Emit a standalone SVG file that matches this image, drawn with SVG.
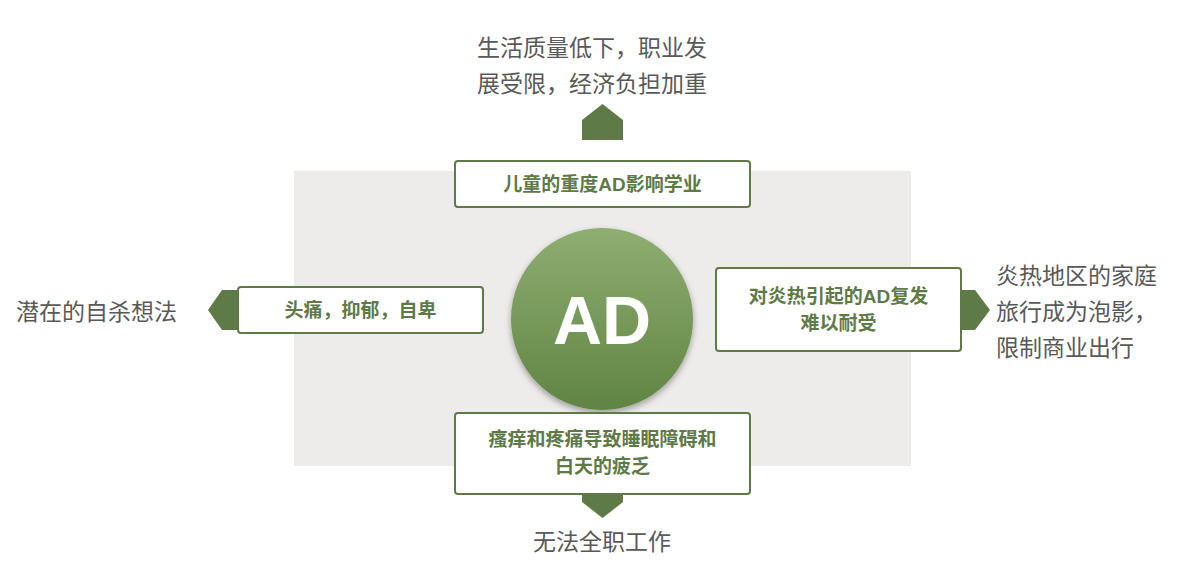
<svg xmlns="http://www.w3.org/2000/svg" width="1193" height="573" viewBox="0 0 1193 573">
<style>
.box{fill:#fff;stroke:#5e7a47;stroke-width:2}
.arr{fill:#5e7a47}
.bt{font-family:"Liberation Sans","Noto Sans CJK SC",sans-serif;font-weight:bold;font-size:19px;fill:#5e7a47;text-anchor:middle}
.ot{font-family:"Liberation Sans","Noto Sans CJK SC",sans-serif;font-size:23px;fill:#595959}
</style>
<defs>
<linearGradient id="g" x1="0" y1="0" x2="0" y2="1">
<stop offset="0" stop-color="#8fae72"/><stop offset="1" stop-color="#5f8443"/>
</linearGradient>
<filter id="s" x="-20%" y="-20%" width="140%" height="140%"><feDropShadow dx="0" dy="3" stdDeviation="3" flood-opacity="0.35"/></filter>
</defs>
<rect x="294" y="171" width="617" height="295" fill="#edeceb"/>
<g id="connectors">
<polygon class="arr" points="582,140 582,120 602.5,104 623,120 623,140"/>
<polygon class="arr" points="240,290 222,290 208,310 222,330 240,330"/>
<polygon class="arr" points="960,290 975,290 990,310 975,330 960,330"/>
<polygon class="arr" points="582,492 582,502 602.5,518 623,502 623,492"/>
</g>
<g id="center"><circle cx="602" cy="319" r="91" fill="url(#g)" filter="url(#s)"/>
<text x="602" y="344" font-family="Liberation Sans,sans-serif" font-weight="bold" font-size="68" fill="#fff" text-anchor="middle">AD</text></g>
<g id="top"><rect class="box" x="455" y="161" width="295" height="46" rx="3"/><text class="bt" x="602.5" y="191">儿童的重度AD影响学业</text></g>
<g id="left"><rect class="box" x="238" y="287" width="245" height="46" rx="3"/><text class="bt" x="360.5" y="317">头痛，抑郁，自卑</text></g>
<g id="right"><rect class="box" x="716" y="268" width="245" height="83" rx="3"/><text class="bt" x="838.5" y="303">对炎热引起的AD复发</text><text class="bt" x="838.5" y="330">难以耐受</text></g>
<g id="bottom"><rect class="box" x="455" y="413" width="295" height="81" rx="3"/><text class="bt" x="602.5" y="446">瘙痒和疼痛导致睡眠障碍和</text><text class="bt" x="602.5" y="473">白天的疲乏</text></g>
<g id="out-top"><text class="ot" x="592" y="56" text-anchor="middle">生活质量低下，职业发</text><text class="ot" x="592" y="92" text-anchor="middle">展受限，经济负担加重</text></g>
<g id="out-left"><text class="ot" x="16" y="320">潜在的自杀想法</text></g>
<g id="out-right"><text class="ot" x="996" y="284">炎热地区的家庭</text><text class="ot" x="996" y="320">旅行成为泡影，</text><text class="ot" x="996" y="356">限制商业出行</text></g>
<g id="out-bottom"><text class="ot" x="602" y="550" text-anchor="middle">无法全职工作</text></g>
</svg>
